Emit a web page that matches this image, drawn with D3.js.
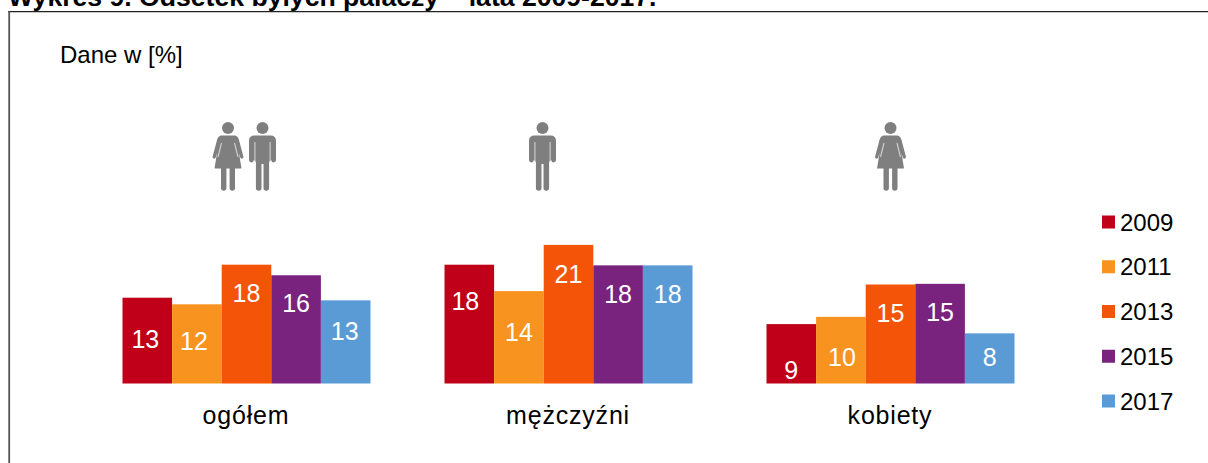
<!DOCTYPE html>
<html><head><meta charset="utf-8">
<style>html,body{margin:0;padding:0;background:#fff}svg{display:block}text{font-family:"Liberation Sans",Arial,sans-serif}</style>
<script src="https://cdn.jsdelivr.net/npm/d3@7"></script></head>
<body><script>
const categories = ["ogółem", "mężczyźni", "kobiety"];
const years = ["2009", "2011", "2013", "2015", "2017"];
const ogolem = [13.0, 12.0, 18.0, 16.4, 12.6];
const mezczyzni = [18.0, 14.0, 21.0, 17.9, 17.9];
const kobiety = [9.0, 10.1, 15.0, 15.1, 7.6];
const seriesByCategory = [ogolem, mezczyzni, kobiety];
const colors = ["#c00019", "#f8931f", "#f35407", "#7a237e", "#5b9bd5"];
const titleText = "Wykres 9. Odsetek byłych palaczy – lata 2009-2017.";
const unitText = "Dane w [%]";

// layout
const W = 1208, H = 463, baseY = 383.5, pxPerUnit = 6.6;
const groupLeft = [122.5, 444.5, 766.5], barsW = 248;
const labelDrop = [[41,37,28,28,31],[36,41,29,29,29],[46,40,28,28,24]];
const labelShift = [[-2,-3,0,0,-1],[-4,0,0,0,0],[0,1,0,0,0]];

const svg = d3.select("body").append("svg").attr("width",W).attr("height",H);
svg.append("text").attr("x",8).attr("y",6).attr("font-size",26.6).attr("font-weight","bold").attr("fill","#000").text(titleText);
svg.append("path").attr("d",`M${W} 11.6H8`).attr("fill","none").attr("stroke","#222").attr("stroke-width",1.2);
svg.append("path").attr("d",`M9.2 11V${H}`).attr("fill","none").attr("stroke","#555").attr("stroke-width",1.8);
svg.append("text").attr("x",60).attr("y",63).attr("font-size",24).attr("fill","#000").text(unitText);

const y = d3.scaleLinear().domain([0,25]).range([baseY, baseY-25*pxPerUnit]);
const fmt = d3.format(".0f");

categories.forEach((cat,i)=>{
  const x = d3.scaleBand().domain(years).range([groupLeft[i], groupLeft[i]+barsW]).padding(0);
  const g = svg.append("g");
  g.selectAll("rect").data(seriesByCategory[i]).join("rect")
    .attr("x",(d,j)=>x(years[j])).attr("y",d=>y(d)).attr("width",x.bandwidth()).attr("height",d=>y(0)-y(d))
    .attr("fill",(d,j)=>colors[j]);
  g.selectAll("text.v").data(seriesByCategory[i]).join("text").attr("class","v")
    .attr("x",(d,j)=>x(years[j])+x.bandwidth()/2+labelShift[i][j])
    .attr("y",(d,j)=>y(d)+labelDrop[i][j]+9)
    .attr("text-anchor","middle").attr("font-size",25).attr("fill","#fff").text(d=>fmt(d));
  svg.append("text").attr("x",groupLeft[i]+barsW/2-0.5).attr("y",424).attr("text-anchor","middle")
    .attr("font-size",25).attr("letter-spacing",0.8).attr("fill","#000").text(cat);
});

// pictograms
function person(kind, cx){
  const g = svg.append("g").attr("fill","#7f7f7f");
  const t = 122;
  g.append("circle").attr("cx",cx).attr("cy",t+6).attr("r",6);
  if(kind==="m"){
    g.append("path").attr("d",`M${cx-8} ${t+13.5} H${cx+8} Q${cx+13.5} ${t+13.5} ${cx+13.5} ${t+19} V${t+38} a2.4 2.4 0 0 1 -4.8 0 L${cx+6.6} ${t+40} V${t+66} a2.8 2.8 0 0 1 -5.6 0 V${t+42} H${cx-1} V${t+66} a2.8 2.8 0 0 1 -5.6 0 V${t+40} L${cx-8.7} ${t+38} a2.4 2.4 0 0 1 -4.8 0 V${t+19} Q${cx-13.5} ${t+13.5} ${cx-8} ${t+13.5} Z`);
    g.append("path").attr("d",`M${cx-7.6} ${t+20}V${t+40}M${cx+7.6} ${t+20}V${t+40}M${cx} ${t+42}V${t+68}`)
      .attr("fill","none").attr("stroke","#fff").attr("stroke-opacity",0.65).attr("stroke-width",1.1);
  } else {
    g.append("path").attr("d",`M${cx-7} ${t+13.5} H${cx+7} Q${cx+10} ${t+14} ${cx+11} ${t+18} L${cx+15.5} ${t+35} a1.7 1.7 0 0 1 -3 1 L${cx+11} ${t+31} L${cx+13.5} ${t+46.5} H${cx+7} V${t+66} a2.7 2.7 0 0 1 -5.4 0 V${t+46.5} H${cx-1.6} V${t+66} a2.7 2.7 0 0 1 -5.4 0 V${t+46.5} H${cx-13.5} L${cx-11} ${t+31} L${cx-12.5} ${t+36} a1.7 1.7 0 0 1 -3 -1 L${cx-11} ${t+18} Q${cx-10} ${t+14} ${cx-7} ${t+13.5} Z`);
    g.append("path").attr("d",`M${cx-6.5} ${t+21}L${cx-10} ${t+35}M${cx+6.5} ${t+21}L${cx+10} ${t+35}`)
      .attr("fill","none").attr("stroke","#fff").attr("stroke-opacity",0.65).attr("stroke-width",1.1);
  }
}
person("f",228); person("m",262.5); person("m",542.5); person("f",890.5);

// legend
const ly = d3.scalePoint().domain(years).range([222,401]);
years.forEach((yr,j)=>{
  svg.append("rect").attr("x",1102).attr("y",ly(yr)-6.5).attr("width",13).attr("height",13).attr("fill",colors[j]);
  svg.append("text").attr("x",1120).attr("y",ly(yr)+8.5).attr("font-size",24).attr("fill","#000").text(yr);
});
</script></body></html>
